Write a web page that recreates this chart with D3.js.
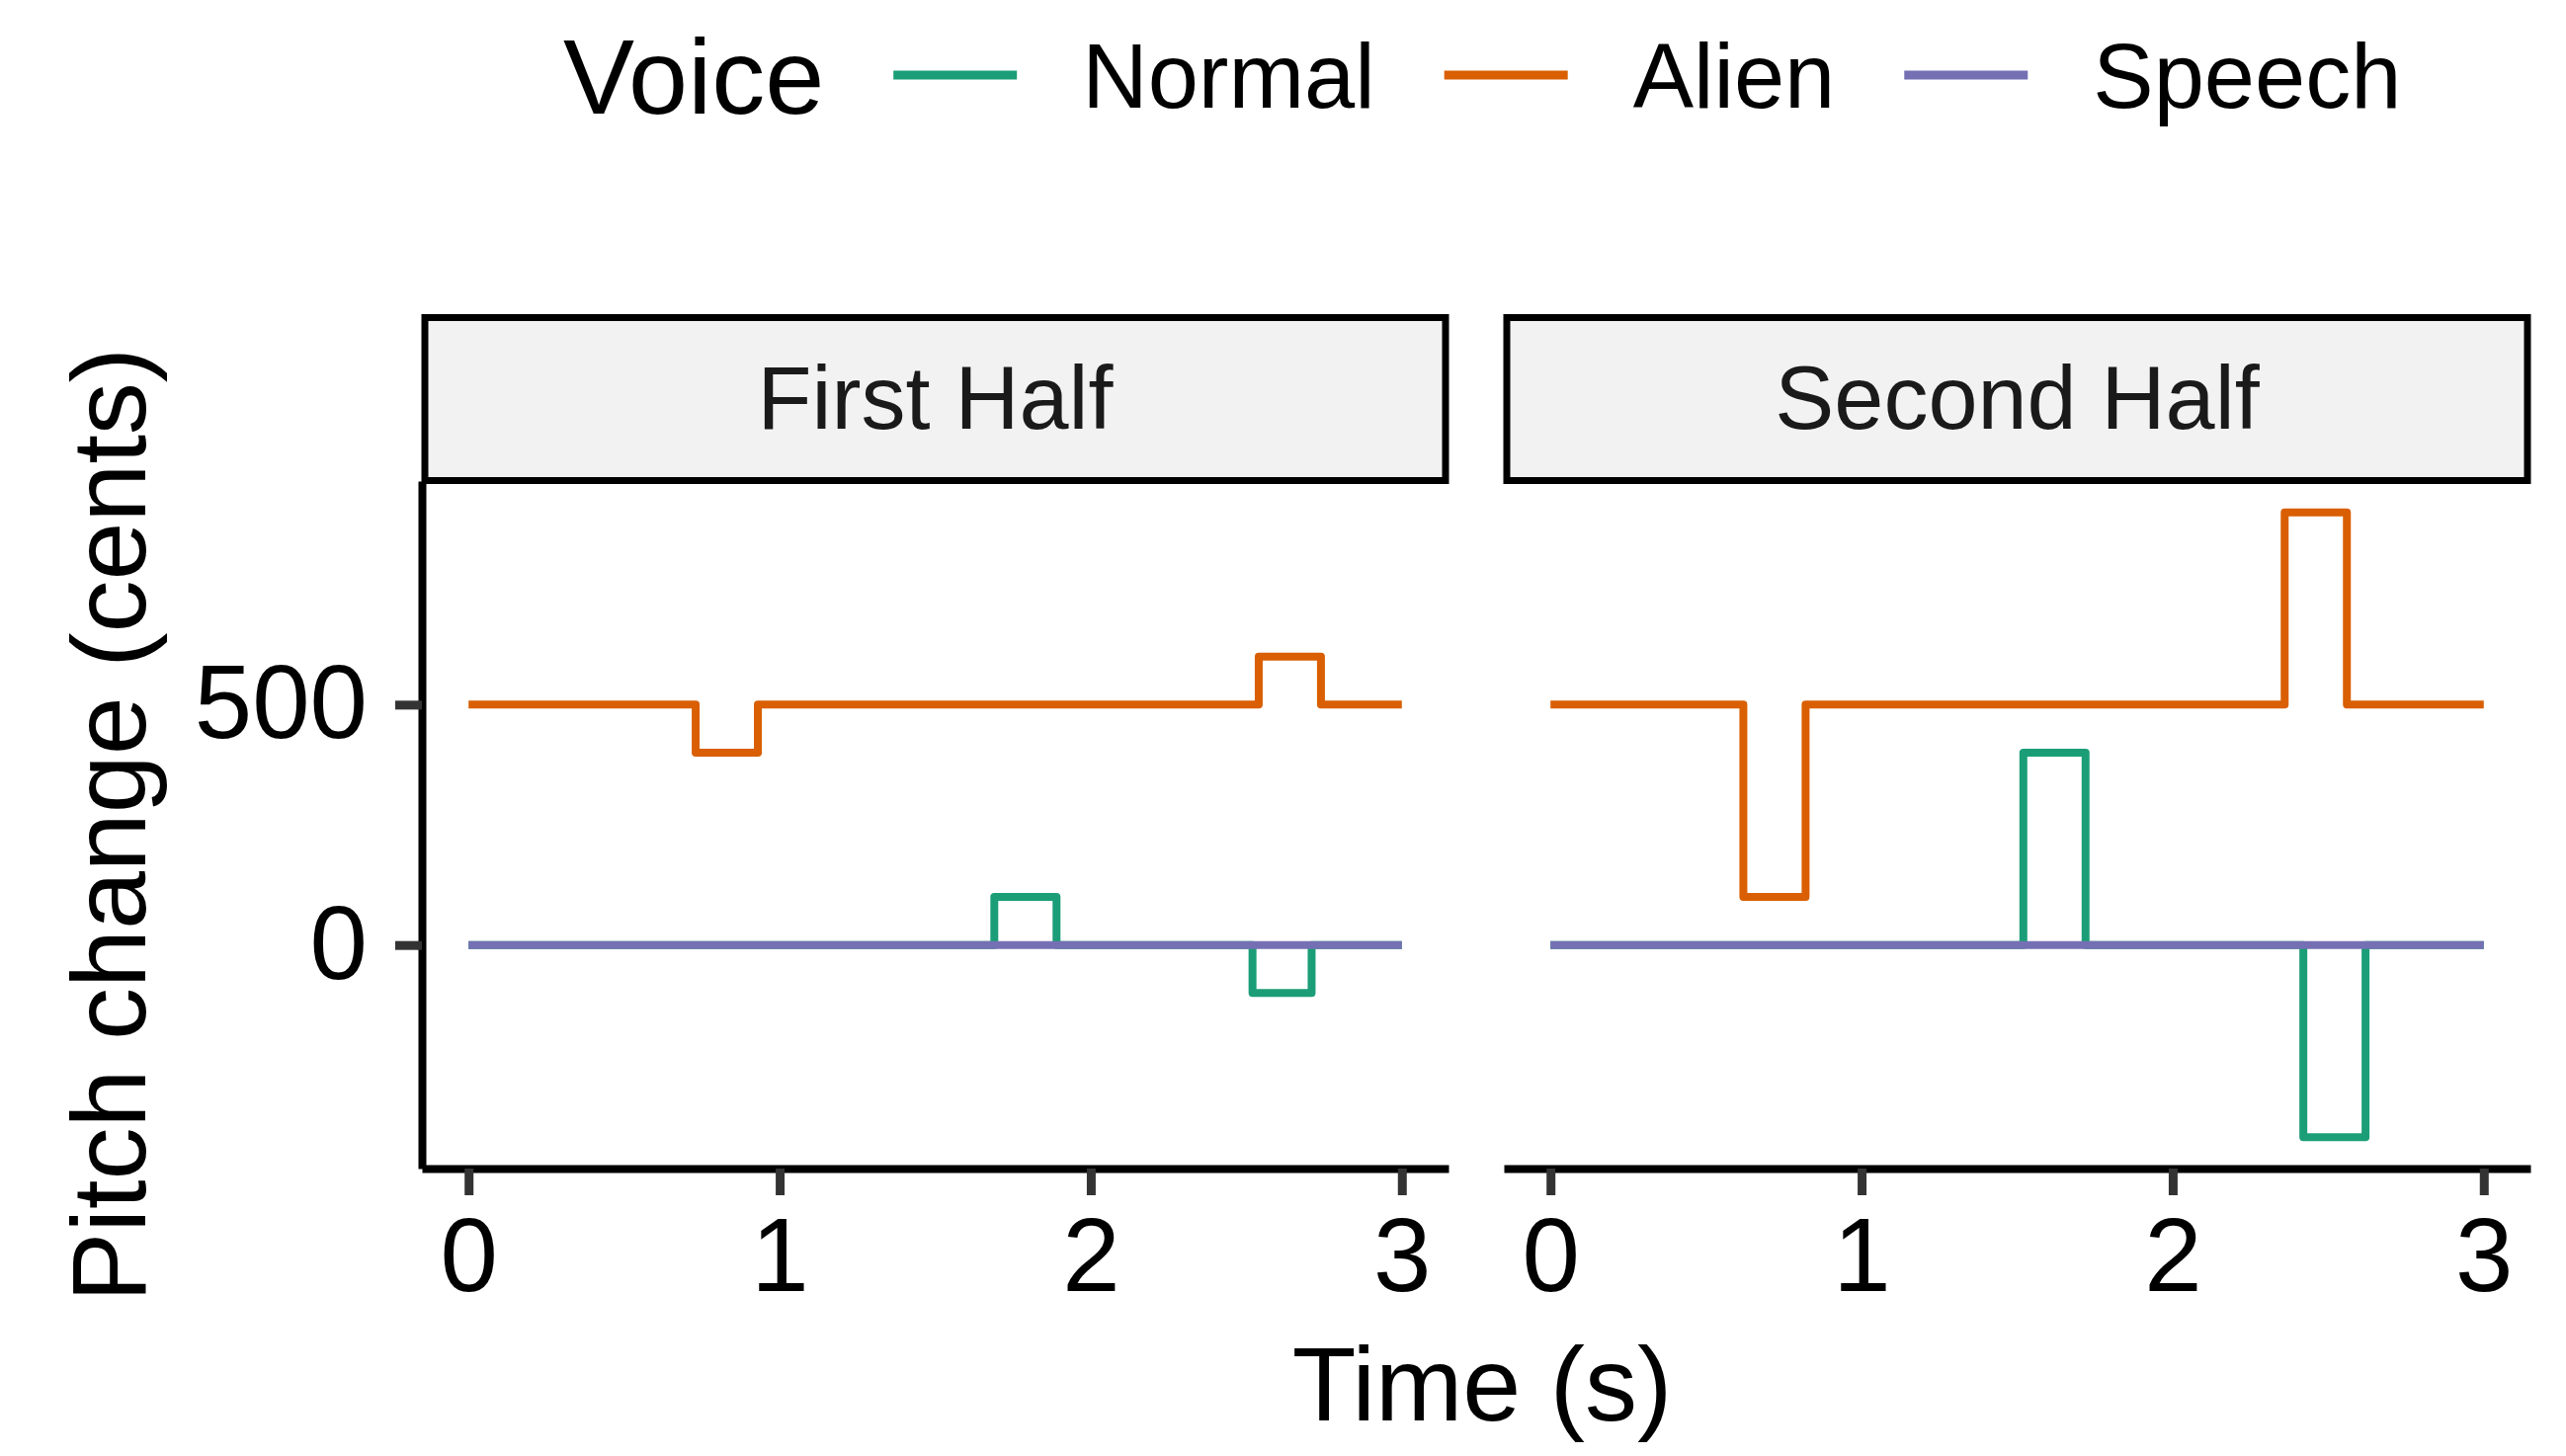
<!DOCTYPE html>
<html>
<head>
<meta charset="utf-8">
<script src="https://cdn.jsdelivr.net/npm/d3@7"></script>
<style>
  body { margin: 0; background: #fff; }
  text { font-family: "Liberation Sans", Arial, sans-serif; }
</style>
</head>
<body>
<div id="chart"></div>
<script>
const voices = ["Normal", "Alien", "Speech"];
const colours = ["#1B9E77", "#D95F02", "#7570B3"];
const halves = ["First Half", "Second Half"];
const xTicks = [0, 1, 2, 3];
const yTicks = [0, 500];

// step series: time (s) where the value changes, value held until next time
const firstNormalTime = [0, 1.69, 1.89, 2.52, 2.71, 3];
const firstNormalCents = [0, 100, 0, -100, 0, 0];
const firstAlienTime = [0, 0.73, 0.93, 2.54, 2.74, 3];
const firstAlienCents = [500, 400, 500, 600, 500, 500];
const firstSpeechTime = [0, 3];
const firstSpeechCents = [0, 0];

const secondNormalTime = [0, 1.52, 1.72, 2.42, 2.62, 3];
const secondNormalCents = [0, 400, 0, -400, 0, 0];
const secondAlienTime = [0, 0.62, 0.82, 2.36, 2.56, 3];
const secondAlienCents = [500, 100, 500, 900, 500, 500];
const secondSpeechTime = [0, 3];
const secondSpeechCents = [0, 0];

const zip = (t, v) => t.map((d, i) => ({ t: d, v: v[i] }));
const series = [
    { half: halves[0], voice: "Normal", pts: zip(firstNormalTime, firstNormalCents) },
    { half: halves[0], voice: "Alien", pts: zip(firstAlienTime, firstAlienCents) },
    { half: halves[0], voice: "Speech", pts: zip(firstSpeechTime, firstSpeechCents) },
    { half: halves[1], voice: "Normal", pts: zip(secondNormalTime, secondNormalCents) },
    { half: halves[1], voice: "Alien", pts: zip(secondAlienTime, secondAlienCents) },
    { half: halves[1], voice: "Speech", pts: zip(secondSpeechTime, secondSpeechCents) }
];

const width = 2597;
const height = 1474;
const panelLeft = 427;
const panelW = 1039;
const gap = 56;
const panelTop = 487;
const panelBottom = 1183;
const stripTop = 318;

const colour = d3.scaleOrdinal().domain(voices).range(colours);

// ggplot-style 5% expansion
function expand(ext) {
    const pad = (ext[1] - ext[0]) * 0.05;
    return [ext[0] - pad, ext[1] + pad];
}
const allT = series.flatMap(s => s.pts.map(p => p.t));
const allV = series.flatMap(s => s.pts.map(p => p.v));

const x = d3.scaleLinear().domain(expand(d3.extent(allT))).range([0, panelW]);
const y = d3.scaleLinear().domain(expand(d3.extent(allV))).range([panelBottom, panelTop]);

const svg = d3.select("#chart")
    .append("svg")
    .attr("width", width)
    .attr("height", height)
    .attr("viewBox", [0, 0, width, height]);

const line = d3.line()
    .x(d => x(d.t))
    .y(d => y(d.v))
    .curve(d3.curveStepAfter);

function styleAxis(a) {
    a.select(".domain").attr("stroke", "#000").attr("stroke-width", 8);
    a.selectAll(".tick line").attr("stroke", "#333333").attr("stroke-width", 9);
    a.selectAll(".tick text")
        .attr("font-size", 105)
        .attr("font-family", "Liberation Sans, Arial, sans-serif")
        .attr("fill", "#000");
}

halves.forEach((half, i) => {
    const g = svg.append("g")
        .attr("transform", `translate(${panelLeft + i * (panelW + gap)},0)`);

    // strip
    g.append("rect")
        .attr("x", 3)
        .attr("y", stripTop + 3.5)
        .attr("width", panelW - 6)
        .attr("height", panelTop - stripTop - 4)
        .attr("fill", "#F2F2F2")
        .attr("stroke", "#000")
        .attr("stroke-width", 7);
    g.append("text")
        .attr("x", panelW / 2)
        .attr("y", 434)
        .attr("text-anchor", "middle")
        .attr("font-size", 90)
        .attr("fill", "#1A1A1A")
        .text(half);

    g.append("g")
        .selectAll("path")
        .data(series.filter(s => s.half === half))
        .join("path")
            .attr("d", s => line(s.pts))
            .attr("fill", "none")
            .attr("stroke", s => colour(s.voice))
            .attr("stroke-width", 8)
            .attr("stroke-linejoin", "round");

    const xa = g.append("g")
        .attr("transform", `translate(0,${panelBottom})`)
        .call(d3.axisBottom(x).tickValues(xTicks).tickFormat(d3.format("d"))
            .tickSize(27).tickSizeOuter(0).tickPadding(22));
    styleAxis(xa);

    if (i === 0) {
        const ya = g.append("g")
            .call(d3.axisLeft(y).tickValues(yTicks).tickFormat(d3.format("d"))
                .tickSize(27).tickSizeOuter(0).tickPadding(28));
        styleAxis(ya);
    }
});

// axis titles
svg.append("text")
    .attr("x", 1500)
    .attr("y", 1438)
    .attr("text-anchor", "middle")
    .attr("font-size", 106)
    .text("Time (s)");

svg.append("text")
    .attr("transform", `translate(147,${(panelTop + panelBottom) / 2}) rotate(-90)`)
    .attr("text-anchor", "middle")
    .attr("font-size", 106)
    .text("Pitch change (cents)");

// legend
const legend = svg.append("g");
const legendY = 76;
let cx = 570;
const title = legend.append("text")
    .attr("x", cx)
    .attr("y", legendY + 39)
    .attr("font-size", 108)
    .text("Voice");
cx += title.node().getComputedTextLength() + 70;
voices.forEach(v => {
    legend.append("line")
        .attr("x1", cx).attr("x2", cx + 125)
        .attr("y1", legendY).attr("y2", legendY)
        .attr("stroke", colour(v))
        .attr("stroke-width", 9);
    cx += 125 + 66;
    const t = legend.append("text")
        .attr("x", cx)
        .attr("y", legendY + 33)
        .attr("font-size", 92)
        .text(v);
    cx += t.node().getComputedTextLength() + 70;
});
</script>
</body>
</html>
